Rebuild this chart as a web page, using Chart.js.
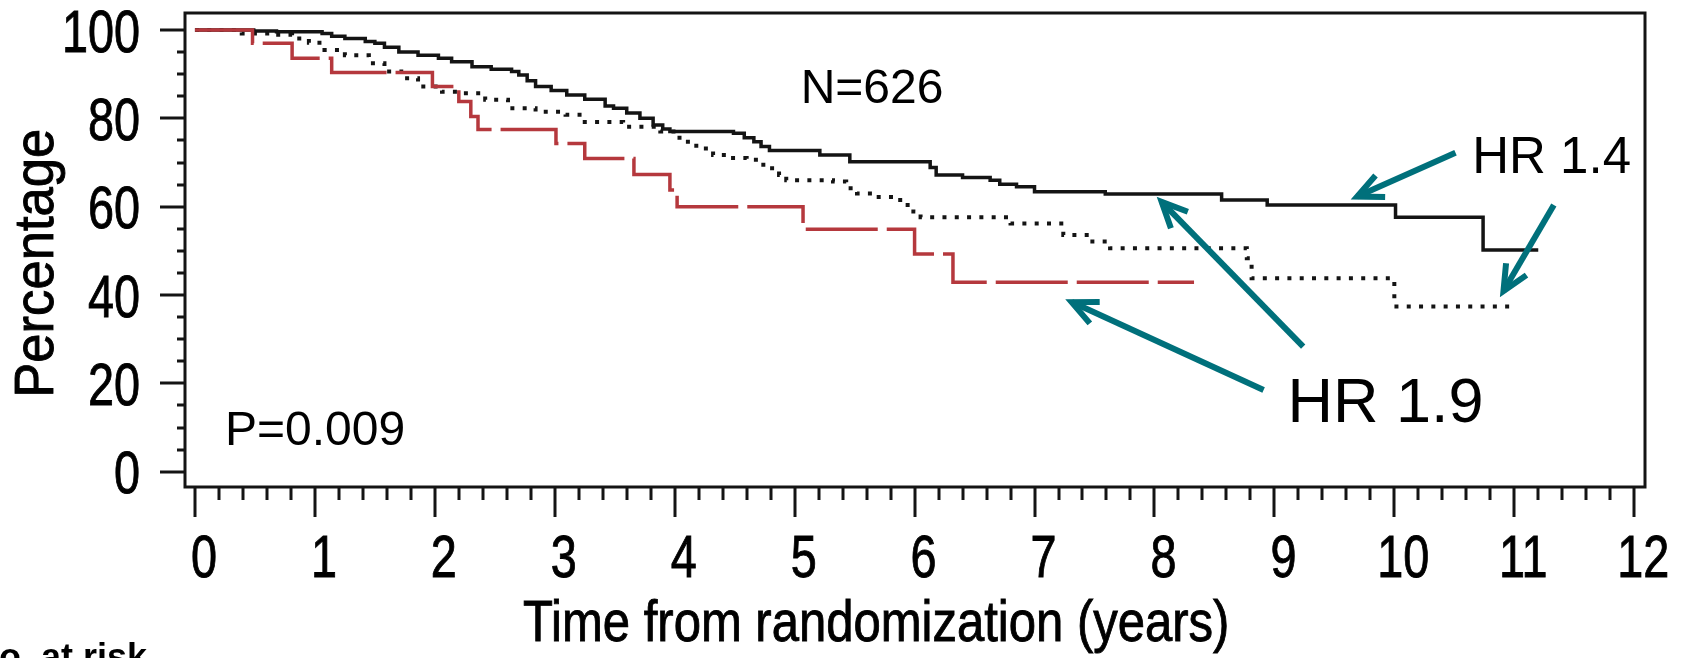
<!DOCTYPE html>
<html>
<head>
<meta charset="utf-8">
<script src="https://cdn.jsdelivr.net/npm/chart.js@4.4.1/dist/chart.umd.min.js"></script>
<style>
  html, body { margin: 0; padding: 0; background: #fff; overflow: hidden; }
  canvas { display: block; }
</style>
</head>
<body>
<canvas id="km" width="1687" height="658"></canvas>
<script>
// ===================== Data =====================
// Kaplan-Meier curves: time in years, percentage surviving after each step
const solidTimes = [0, 0.49, 0.68, 1.06, 1.14, 1.25, 1.42, 1.50, 1.58, 1.70, 1.86, 2.03, 2.14, 2.31, 2.47, 2.64, 2.70, 2.77, 2.84, 2.97, 3.10, 3.25, 3.42, 3.49, 3.60, 3.71, 3.82, 3.90, 3.96, 4.49, 4.58, 4.66, 4.72, 4.79, 5.21, 5.46, 6.13, 6.18, 6.40, 6.63, 6.71, 6.85, 7.00, 7.59, 8.56, 8.94, 10.01, 10.74, 11.20];
const solidPct   = [100, 99.8, 99.6, 99.2, 98.6, 98.1, 97.4, 97.0, 96.1, 95.0, 94.3, 93.6, 92.8, 91.7, 91.1, 90.6, 89.8, 88.5, 87.2, 86.3, 85.3, 84.3, 82.8, 82.3, 81.2, 80.0, 78.5, 77.6, 77.0, 76.6, 75.6, 74.7, 73.6, 72.7, 71.7, 70.2, 68.9, 67.2, 66.6, 66.0, 65.1, 64.5, 63.4, 62.9, 61.5, 60.4, 57.6, 50.2, 50.2];

const dottedTimes = [0, 0.39, 0.67, 0.81, 0.95, 1.08, 1.25, 1.45, 1.58, 1.72, 1.86, 2.06, 2.23, 2.42, 2.61, 2.84, 3.09, 3.25, 3.57, 3.88, 4.04, 4.18, 4.32, 4.46, 4.60, 4.71, 4.79, 4.87, 4.93, 5.32, 5.43, 5.52, 5.66, 5.82, 5.91, 5.99, 6.05, 6.80, 7.24, 7.46, 7.63, 8.77, 8.81, 10.00, 10.97];
const dottedPct   = [100, 99.2, 98.9, 98.1, 97.1, 95.5, 94.3, 92.5, 90.6, 89.1, 87.2, 86.0, 85.7, 84.2, 82.3, 81.5, 80.8, 79.2, 78.1, 77.0, 74.7, 73.2, 71.7, 71.0, 70.6, 69.5, 68.7, 67.2, 66.0, 65.7, 64.2, 63.0, 62.2, 61.5, 60.4, 58.9, 57.6, 56.2, 53.6, 52.1, 50.6, 48.3, 43.8, 37.4, 37.4];

const redTimes = [0, 0.48, 0.81, 1.14, 1.98, 2.20, 2.30, 2.36, 3.01, 3.25, 3.66, 3.96, 4.02, 5.07, 6.00, 6.32, 8.33];
const redPct   = [100, 97.0, 93.6, 90.4, 87.2, 83.8, 80.4, 77.5, 74.3, 70.9, 67.3, 63.8, 60.0, 54.9, 49.3, 42.9, 42.9];

const xTickLabels = [0, 1, 2, 3, 4, 5, 6, 7, 8, 9, 10, 11, 12];
const yTickLabels = [0, 20, 40, 60, 80, 100];

const xTitle = 'Time from randomization (years)';
const yTitle = 'Percentage';
const riskLabel = 'No. at risk';

// text notes and arrows, placed in data units (years, %)
const notes = [
  { text: 'N=626',   t: 5.05,  v: 83.5, size: 48 },
  { text: 'P=0.009', t: 0.25,  v: 6.0,  size: 48 },
  { text: 'HR 1.4',  t: 10.65, v: 67.6, size: 51 },
  { text: 'HR 1.9',  t: 9.11,  v: 11.3, size: 63 },
];
const arrows = [
  { from: [10.51, 72.2], to: [9.69, 62.3] },
  { from: [11.33, 60.4], to: [10.91, 40.9] },
  { from: [9.24, 28.3],  to: [8.06, 61.1] },
  { from: [8.91, 18.5],  to: [7.31, 38.4] },
];

// ===================== Style =====================
const SANS = '"Liberation Sans", Arial, sans-serif';
const INK = '#141414';
const RED = '#b5383d';
const TEAL = '#00707b';

const toPoints = (ts, vs) => ts.map((t, i) => ({ x: t, y: vs[i] }));

// condensed text: the axis lettering of the original is narrow and a bit heavy
function narrowText(ctx, text, px, py, size, squeeze, align, rotate) {
  ctx.save();
  ctx.translate(px, py);
  if (rotate) ctx.rotate(rotate);
  ctx.scale(squeeze, 1);
  ctx.font = `${size}px ${SANS}`;
  ctx.textAlign = align;
  ctx.textBaseline = 'alphabetic';
  ctx.fillText(text, 0, 0);
  ctx.lineWidth = 0.9;
  ctx.strokeStyle = '#000';
  ctx.strokeText(text, 0, 0);
  ctx.restore();
}

// ===================== Decorations =====================
const decor = {
  id: 'decor',
  afterDraw(chart) {
    const { ctx, chartArea: a, scales: { x, y } } = chart;
    ctx.save();

    // frame
    ctx.strokeStyle = INK;
    ctx.lineWidth = 3;
    ctx.strokeRect(a.left, a.top, a.right - a.left, a.bottom - a.top);

    // y ticks: major every 20, minor every 5
    ctx.beginPath();
    for (let v = 0; v <= 100; v += 5) {
      const py = Math.round(y.getPixelForValue(v));
      const len = v % 20 === 0 ? 25 : 8;
      ctx.moveTo(a.left - len, py);
      ctx.lineTo(a.left, py);
    }
    // x ticks: major every year, minor every 0.2
    for (let k = 0; k <= 60; k++) {
      const px = Math.round(x.getPixelForValue(k / 5));
      const len = k % 5 === 0 ? 30 : 13;
      ctx.moveTo(px, a.bottom);
      ctx.lineTo(px, a.bottom + len);
    }
    ctx.stroke();

    // tick labels
    ctx.fillStyle = '#000';
    y.ticks.forEach(tk => {
      narrowText(ctx, String(tk.value), a.left - 45, y.getPixelForValue(tk.value) + 21.5, 60, 0.78, 'right');
    });
    x.ticks.forEach(tk => {
      narrowText(ctx, String(tk.value), x.getPixelForValue(tk.value) + 9, a.bottom + 90, 60, 0.78, 'center');
    });

    // axis titles
    narrowText(ctx, xTitle, x.getPixelForValue(5.68), a.bottom + 154, 57, 0.86, 'center');
    narrowText(ctx, yTitle, a.left - 132, y.getPixelForValue(47.2), 56, 0.94, 'center', -Math.PI / 2);

    // risk table header (cut by the bottom edge)
    ctx.fillStyle = '#000';
    ctx.textAlign = 'left';
    ctx.textBaseline = 'alphabetic';
    ctx.font = `bold 36px ${SANS}`;
    ctx.fillText(riskLabel, -27, a.bottom + 182);

    // notes
    notes.forEach(n => {
      ctx.font = `${n.size}px ${SANS}`;
      ctx.fillText(n.text, x.getPixelForValue(n.t), y.getPixelForValue(n.v));
    });

    // arrows
    ctx.strokeStyle = TEAL;
    ctx.lineWidth = 6;
    ctx.lineCap = 'butt';
    ctx.lineJoin = 'miter';
    arrows.forEach(ar => {
      const x0 = x.getPixelForValue(ar.from[0]), y0 = y.getPixelForValue(ar.from[1]);
      const x1 = x.getPixelForValue(ar.to[0]), y1 = y.getPixelForValue(ar.to[1]);
      const ang = Math.atan2(y0 - y1, x0 - x1);
      const spread = 25 * Math.PI / 180, head = 28;
      ctx.beginPath();
      ctx.moveTo(x0, y0);
      ctx.lineTo(x1, y1);
      ctx.stroke();
      ctx.beginPath();
      ctx.moveTo(x1 + head * Math.cos(ang + spread), y1 + head * Math.sin(ang + spread));
      ctx.lineTo(x1, y1);
      ctx.lineTo(x1 + head * Math.cos(ang - spread), y1 + head * Math.sin(ang - spread));
      ctx.stroke();
    });

    ctx.restore();
  }
};

// ===================== Chart =====================
new Chart(document.getElementById('km'), {
  type: 'line',
  data: {
    datasets: [
      { label: 'HR 1.9 group', data: toPoints(redTimes, redPct), borderColor: RED, borderWidth: 3.5, borderDash: [72, 9] },
      { label: 'HR 1.4 group', data: toPoints(dottedTimes, dottedPct), borderColor: INK, borderWidth: 4, borderDash: [4, 8.3] },
      { label: 'Reference', data: toPoints(solidTimes, solidPct), borderColor: INK, borderWidth: 3.5 },
    ],
  },
  options: {
    responsive: false,
    animation: false,
    devicePixelRatio: 1,
    layout: { padding: { top: 13, right: 42, left: 0, bottom: 0 } },
    plugins: { legend: { display: false }, tooltip: { enabled: false } },
    elements: { point: { radius: 0 }, line: { stepped: true, tension: 0, fill: false } },
    scales: {
      x: {
        type: 'linear', min: -0.083, max: 12.09,
        afterBuildTicks: s => { s.ticks = xTickLabels.map(v => ({ value: v })); },
        afterFit: s => { s.height = 171; },
        grid: { display: false, drawTicks: false },
        border: { display: false },
        ticks: { display: false },
      },
      y: {
        type: 'linear', min: -3.46, max: 103.85,
        afterBuildTicks: s => { s.ticks = yTickLabels.map(v => ({ value: v })); },
        afterFit: s => { s.width = 185; },
        grid: { display: false, drawTicks: false },
        border: { display: false },
        ticks: { display: false },
      },
    },
  },
  plugins: [decor],
});
</script>
</body>
</html>
